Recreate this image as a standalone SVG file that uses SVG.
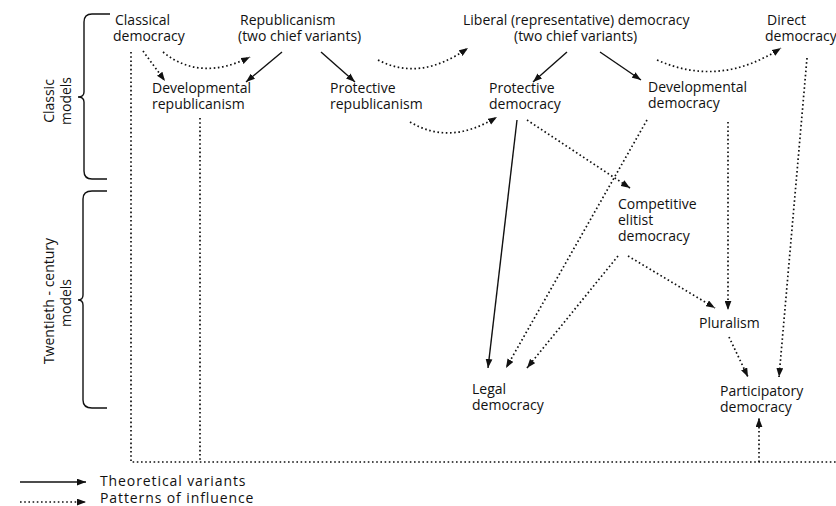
<svg xmlns="http://www.w3.org/2000/svg" width="836" height="506" viewBox="0 0 836 506">
<defs>
<marker id="ah" viewBox="0 0 8 6" refX="8" refY="3" markerWidth="9" markerHeight="7" markerUnits="userSpaceOnUse" orient="auto">
<path d="M0,0 L8,3 L0,6 z" fill="#111"/>
</marker>
</defs>
<style>
text{font-family:"Open Sans","Noto Sans","Liberation Sans",sans-serif;font-size:14px;fill:#111;}
.lg{font-size:14px;letter-spacing:0.9px;}
.solid{fill:none;stroke:#111;stroke-width:1.4;}
.dot{fill:none;stroke:#111;stroke-width:1.7;stroke-dasharray:1.6 2.6;}
.arr{marker-end:url(#ah);}
.brace{fill:none;stroke:#111;stroke-width:1.4;}
</style>
<rect width="836" height="506" fill="#fff"/>

<g id="braces">
<path class="brace" d="M110,14 L92,14 Q84,14 84,22 L84,92 Q84,97 78,97 Q84,97 84,102 L84,171 Q84,179 92,179 L107,179"/>
<path class="brace" d="M107,191 L92,191 Q83,191 83,199 L83,295 Q83,300 78,300 Q83,300 83,305 L83,400 Q83,408 92,408 L107,408"/>
</g>
<g id="period-labels">
<text transform="translate(54,101) rotate(-90)" text-anchor="middle"><tspan x="0" y="0">Classic</tspan><tspan x="0" dy="17">models</tspan></text>
<text transform="translate(54,301) rotate(-90)" text-anchor="middle"><tspan x="0" y="0">Twentieth - century</tspan><tspan x="-2" dy="17">models</tspan></text>
</g>

<g id="connectors">
<path class="dot" d="M131,52 L131,462 L836,462"/>
<path class="dot" d="M200,118 L200,462"/>
<path class="dot arr" d="M163,52 Q200,82 250,57"/>
<path class="dot arr" d="M143,51 L165,81"/>
<path class="solid arr" d="M282,52 L246,82"/>
<path class="solid arr" d="M321,52 L355,82"/>
<path class="dot arr" d="M378,60 Q420,82 468,48"/>
<path class="solid arr" d="M567,52 L533,82"/>
<path class="solid arr" d="M600,52 L641,80"/>
<path class="dot arr" d="M657,60 Q720,88 781,48"/>
<path class="dot arr" d="M410,122 Q450,146 497,117"/>
<path class="dot arr" d="M807,58 L779,377"/>
<path class="solid arr" d="M517,120 L488,368"/>
<path class="dot arr" d="M527,120 L630,188"/>
<path class="dot arr" d="M647,120 L506,368"/>
<path class="dot arr" d="M728,122 L728,310"/>
<path class="dot arr" d="M618,256 L527,368"/>
<path class="dot arr" d="M628,256 L715,308"/>
<path class="dot arr" d="M729,337 L748,377"/>
<path class="dot arr" d="M759,462 L759,418"/>
<path class="solid arr" d="M20,482 L86,482"/>
<path class="dot arr" d="M20,502 L86,502"/>
</g>

<g id="classical-democracy"><text><tspan x="115" y="25">Classical</tspan><tspan x="113" y="41">democracy</tspan></text></g>
<g id="republicanism"><text><tspan x="240" y="25">Republicanism</tspan><tspan x="238" y="41">(two chief variants)</tspan></text></g>
<g id="liberal-democracy"><text><tspan x="463" y="25">Liberal (representative) democracy</tspan><tspan x="514" y="41">(two chief variants)</tspan></text></g>
<g id="direct-democracy"><text><tspan x="767" y="25">Direct</tspan><tspan x="765" y="41">democracy</tspan></text></g>
<g id="developmental-republicanism"><text><tspan x="152" y="93">Developmental</tspan><tspan x="152" y="109">republicanism</tspan></text></g>
<g id="protective-republicanism"><text><tspan x="330" y="93">Protective</tspan><tspan x="330" y="109">republicanism</tspan></text></g>
<g id="protective-democracy"><text><tspan x="489" y="93">Protective</tspan><tspan x="489" y="109">democracy</tspan></text></g>
<g id="developmental-democracy"><text><tspan x="648" y="92">Developmental</tspan><tspan x="648" y="108">democracy</tspan></text></g>
<g id="competitive-elitist-democracy"><text><tspan x="618" y="209">Competitive</tspan><tspan x="618" y="225">elitist</tspan><tspan x="618" y="241">democracy</tspan></text></g>
<g id="pluralism"><text x="699" y="328">Pluralism</text></g>
<g id="legal-democracy"><text><tspan x="472" y="394">Legal</tspan><tspan x="472" y="410">democracy</tspan></text></g>
<g id="participatory-democracy"><text><tspan x="720" y="396">Participatory</tspan><tspan x="720" y="412">democracy</tspan></text></g>

<g id="legend">
<text class="lg" x="100" y="486">Theoretical variants</text>
<text class="lg" x="100" y="503">Patterns of influence</text>
</g>
</svg>
